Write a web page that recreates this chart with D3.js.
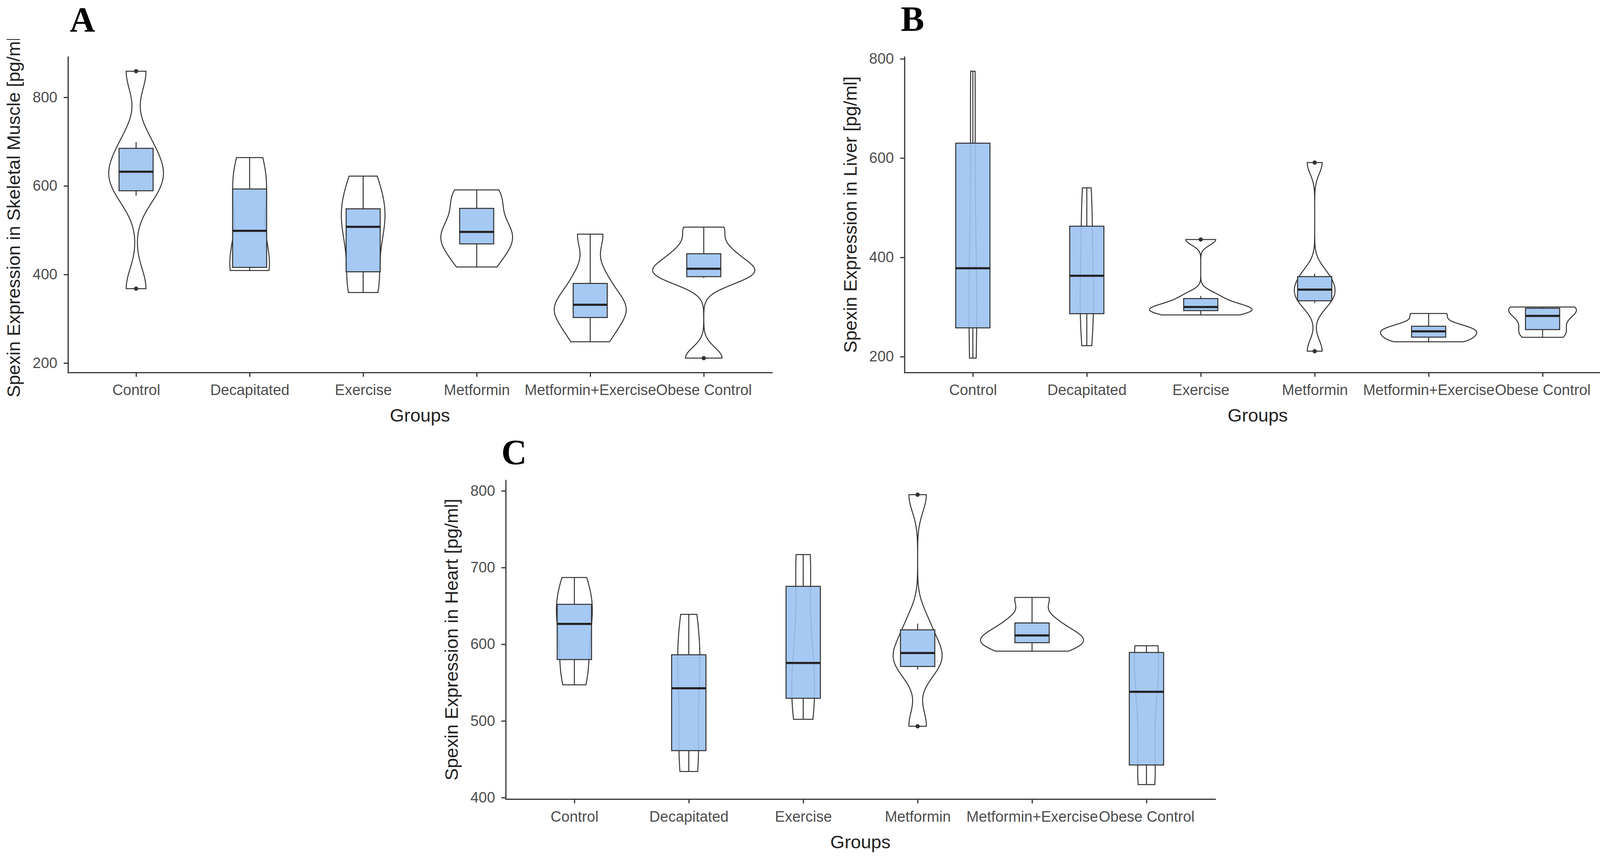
<!DOCTYPE html>
<html>
<head>
<meta charset="utf-8">
<script src="https://cdn.jsdelivr.net/npm/d3@7"></script>
<style>
  body { margin: 0; background: #fff; }
</style>
</head>
<body>
<svg id="chart" width="4142" height="2201"></svg>
<script>
// groups on the x axis, same in all three panels
var groups = ["Control", "Decapitated", "Exercise", "Metformin", "Metformin+Exercise", "Obese Control"];

// spexin per animal [pg/ml], one array per group
var muscle = [
  [368, 578, 622, 642, 699, 859],
  [409, 412, 428, 569, 601, 664],
  [359, 380, 484, 531, 554, 622],
  [417, 462, 490, 502, 565, 591],
  [248, 295, 326, 337, 394, 491],
  [211, 392, 404, 422, 455, 507]
];
var liver = [
  [197, 230, 342, 414, 702, 775],
  [222, 270, 336, 390, 487, 540],
  [284, 291, 298, 302, 322, 436],
  [211, 308, 326, 344, 367, 591],
  [230, 236, 249, 253, 264, 287],
  [239, 249, 271, 293, 299, 300]
];
var heart = [
  [547, 570, 610, 643, 655, 687],
  [434, 445, 510, 575, 590, 639],
  [502, 520, 558, 593, 703, 717],
  [493, 567, 583, 594, 627, 795],
  [591, 600, 608, 615, 632, 661],
  [417, 421, 507, 569, 596, 598]
];

var ticksMuscle = [200, 400, 600, 800];
var ticksLiver = [200, 400, 600, 800];
var ticksHeart = [400, 500, 600, 700, 800];

var svg = d3.select("#chart");
svg.append("rect").attr("width", 4142).attr("height", 2201).attr("fill", "#fff");

var sans = "'Liberation Sans', Arial, sans-serif";
var ink = "#333333";

var panels = [
  { label: "A", data: muscle, ticks: ticksMuscle, title: "Spexin Expression in Skeletal Muscle [pg/ml]",
    left: 174, right: 1976, top: 145.5, bottom: 953.3, lx: 211, ly: 81, clipTop: 100 },
  { label: "B", data: liver, ticks: ticksLiver, title: "Spexin Expression in Liver [pg/ml]",
    left: 2315.5, right: 4124, top: 145.5, bottom: 953.3, lx: 2336, ly: 79 },
  { label: "C", data: heart, ticks: ticksHeart, title: "Spexin Expression in Heart [pg/ml]",
    left: 1294.6, right: 3110.7, top: 1229, bottom: 2045, lx: 1316, ly: 1188 }
];

// box stats + gaussian density (bandwidth like R's bw.nrd0)
function boxStats(vals) {
  var s = vals.slice().sort(d3.ascending);
  var q1 = d3.quantile(s, 0.25), med = d3.quantile(s, 0.5), q3 = d3.quantile(s, 0.75);
  var iqr = q3 - q1;
  var lo = d3.min(s.filter(function(v) { return v >= q1 - 1.5 * iqr; }));
  var hi = d3.max(s.filter(function(v) { return v <= q3 + 1.5 * iqr; }));
  var out = s.filter(function(v) { return v < lo || v > hi; });
  var bw = 0.9 * Math.min(d3.deviation(s), iqr / 1.34) * Math.pow(s.length, -0.2);
  var mn = s[0], mx = s[s.length - 1];
  var dens = d3.range(512).map(function(k) {
    var t = mn + (mx - mn) * k / 511;
    var d = d3.mean(s, function(v) { var u = (t - v) / bw; return Math.exp(-0.5 * u * u); }) / (bw * Math.sqrt(2 * Math.PI));
    return [t, d];
  });
  return { q1: q1, med: med, q3: q3, lo: lo, hi: hi, out: out, dens: dens };
}

panels.forEach(function(p, pi) {
  var g = svg.append("g");
  var all = d3.merge(p.data);
  var ext = d3.extent(all), pad = (ext[1] - ext[0]) * 0.05;
  var y = d3.scaleLinear().domain([ext[0] - pad, ext[1] + pad]).range([p.bottom, p.top]);
  var x = d3.scalePoint().domain(groups).range([p.left, p.right]).padding(0.6);
  var step = x.step();

  var stats = p.data.map(boxStats);
  var maxD = d3.max(stats, function(s) { return d3.max(s.dens, function(d) { return d[1]; }); });

  // violins, scaled by area (same max density for the whole panel)
  stats.forEach(function(s, i) {
    var cx = x(groups[i]);
    var area = d3.area()
      .y(function(d) { return y(d[0]); })
      .x0(function(d) { return cx - d[1] / maxD * 0.45 * step; })
      .x1(function(d) { return cx + d[1] / maxD * 0.45 * step; });
    g.append("path").datum(s.dens)
      .attr("d", area)
      .attr("fill", "#fff")
      .attr("stroke", ink)
      .attr("stroke-width", 2.5);
  });

  // boxplots on top
  stats.forEach(function(s, i) {
    var cx = x(groups[i]), hw = 0.15 * step;
    g.append("line").attr("x1", cx).attr("x2", cx).attr("y1", y(s.q3)).attr("y2", y(s.hi))
      .attr("stroke", ink).attr("stroke-width", 2.5);
    g.append("line").attr("x1", cx).attr("x2", cx).attr("y1", y(s.q1)).attr("y2", y(s.lo))
      .attr("stroke", ink).attr("stroke-width", 2.5);
    g.append("rect")
      .attr("x", cx - hw).attr("width", 2 * hw)
      .attr("y", y(s.q3)).attr("height", y(s.q1) - y(s.q3))
      .attr("fill", "rgb(155,195,242)").attr("fill-opacity", 0.9)
      .attr("stroke", ink).attr("stroke-width", 2.6);
    g.append("line").attr("x1", cx - hw).attr("x2", cx + hw).attr("y1", y(s.med)).attr("y2", y(s.med))
      .attr("stroke", "#222").attr("stroke-width", 5.5);
    g.selectAll(null).data(s.out).enter().append("circle")
      .attr("cx", cx).attr("cy", function(d) { return y(d); })
      .attr("r", 5.5).attr("fill", ink);
  });

  // axes
  var ya = g.append("g").attr("transform", "translate(" + p.left + ",0)")
    .call(d3.axisLeft(y).tickValues(p.ticks).tickSize(11).tickSizeOuter(0).tickPadding(16));
  var xa = g.append("g").attr("transform", "translate(0," + p.bottom + ")")
    .call(d3.axisBottom(x).tickSize(11).tickSizeOuter(0).tickPadding(20));
  [ya, xa].forEach(function(a) {
    a.attr("font-family", sans).attr("font-size", 38);
    a.select(".domain").attr("stroke", ink).attr("stroke-width", 3).attr("stroke-linecap", "square");
    a.selectAll(".tick line").attr("stroke", ink).attr("stroke-width", 3);
    a.selectAll(".tick text").attr("fill", "#4d4d4d");
  });

  // axis titles
  g.append("text")
    .attr("x", (p.left + p.right) / 2).attr("y", p.bottom + 126)
    .attr("text-anchor", "middle").attr("font-family", sans).attr("font-size", 47).attr("fill", "#222")
    .text("Groups");
  var holder = g.append("g");
  if (p.clipTop) {
    svg.append("clipPath").attr("id", "clip" + pi).attr("clipPathUnits", "userSpaceOnUse")
      .append("rect").attr("x", 0).attr("y", p.clipTop).attr("width", 4142).attr("height", 2201);
    holder.attr("clip-path", "url(#clip" + pi + ")");
  }
  holder.append("text")
    .attr("transform", "translate(" + (p.left - 123) + "," + ((p.top + p.bottom) / 2) + ") rotate(-90)")
    .attr("text-anchor", "middle").attr("font-family", sans).attr("font-size", 47).attr("fill", "#222")
    .text(p.title);

  // panel letter
  g.append("text")
    .attr("x", p.lx).attr("y", p.ly)
    .attr("text-anchor", "middle")
    .attr("font-family", "'Liberation Serif', 'Times New Roman', serif")
    .attr("font-weight", "bold").attr("font-size", 90).attr("fill", "#000")
    .text(p.label);
});
</script>
</body>
</html>
